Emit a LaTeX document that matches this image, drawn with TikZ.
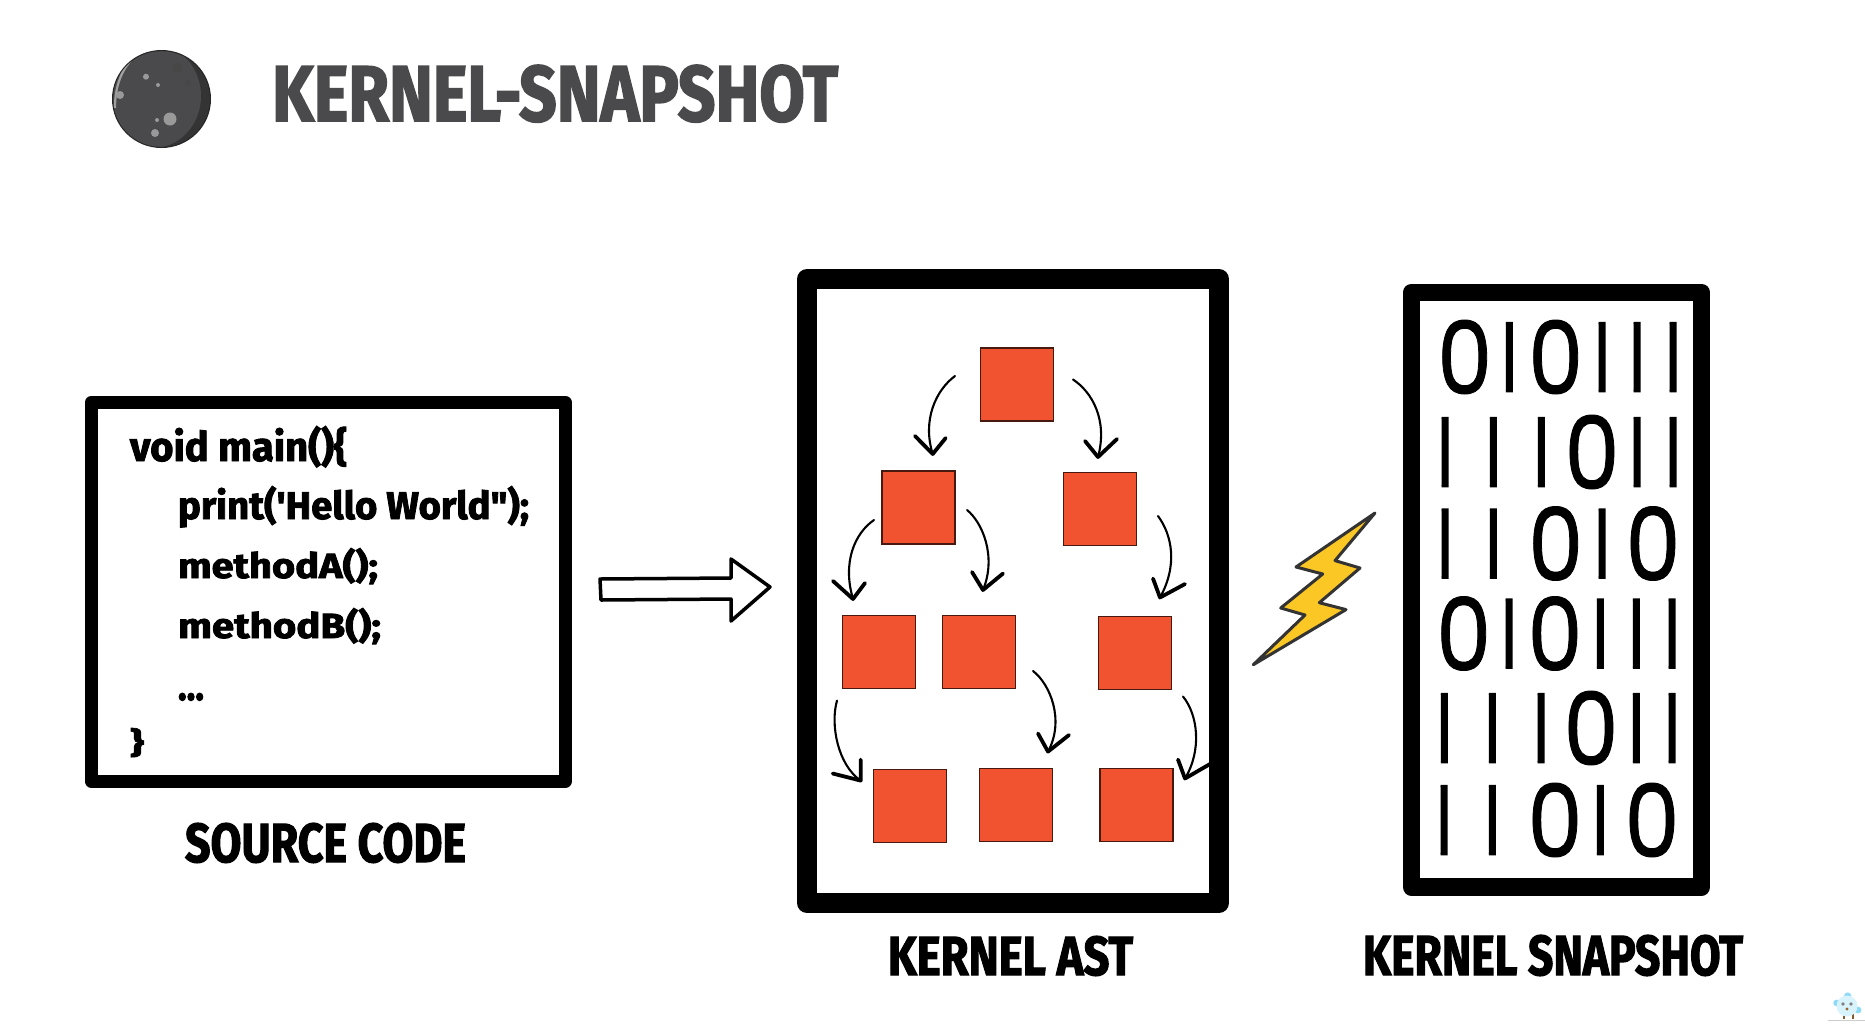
\documentclass[tikz,border=0pt]{standalone}
\usepackage{fontspec}
\setmainfont{Fira Sans}
\newfontfamily\headfont[BoldFeatures={FakeBold=2.2}]{Fira Sans}
\newfontfamily\onefont[FakeBold=2.6]{Poppins}
\newfontfamily\zerofont[FakeBold=0.9]{Poppins}
\newcommand{\fitbox}[3]{\resizebox{#1pt}{#2pt}{\headfont\bfseries #3}}
\definecolor{nodeorange}{HTML}{F15331}
\definecolor{boltyellow}{HTML}{FBC725}
\definecolor{titlegrey}{HTML}{4A4A4C}
\tikzset{
  frame/.style={draw=black,fill=white,line join=round,inner sep=0pt,outer sep=0pt},
  sq/.style={draw=black!70!nodeorange,fill=nodeorange,line width=1.2pt,minimum width=73pt,minimum height=73pt,inner sep=0pt,outer sep=0pt},
  txt/.style={anchor=base west,inner sep=0pt,outer sep=0pt},
  curve/.style={draw=black,line width=2.1pt,line cap=round},
  barb/.style={draw=black,line width=3.8pt,line cap=round,line join=round},
  onedigit/.style={inner sep=0pt,outer sep=0pt,anchor=center},
}
\newcommand{\zerod}[4]{\node[onedigit] (#1) at (#2,#3) {\makebox[47pt][c]{\resizebox{55pt}{74pt}{\zerofont 0}}};}
\newcommand{\oned}[3]{%
  \begin{scope}
    \clip (#2-4.2,#3-36) rectangle (#2+4.2,#3+36);
    \node[onedigit,anchor=east] (#1) at (#2+4.2,#3) {\makebox[8pt][r]{\resizebox{!}{68pt}{\onefont 1}\kern-6.3pt}};
  \end{scope}}
\begin{document}
\begin{tikzpicture}[x=1pt,y=-1pt]
\useasboundingbox[fill=white] (0,0) rectangle (1865,1034);

% planet
\fill[color=black!85] (161.5,99) ellipse (49.5 and 49);
\begin{scope}
\clip (161.5,99) ellipse (48.3 and 47.8);
\fill[color=titlegrey!70!black] (161.5,99) ellipse (49.5 and 49);
\fill[color=titlegrey] (153,96) ellipse (48 and 52);
\draw[line width=2.2pt,color=gray!75] (136,55) .. controls (122,68) and (115,85) .. (115,108);
\end{scope}
\fill[color=black!72] (177.7,68) circle (4.8) (188,83) circle (3.4);
\fill[color=gray!80] (146,76.7) circle (3) (158,85) circle (2) (120,95) circle (4)
  (170,119) circle (6.5) (157,120) circle (2) (155,133) circle (4);

\node[txt,text=titlegrey] (title) at (272,121) {\fitbox{566}{56}{KERNEL-SNAPSHOT}};

% source code box
\node[frame,line width=13pt,minimum width=474.5pt,minimum height=378.5pt] (src) at (328.25,591.75) {};
\node[txt] (c1) at (130,461) {\fitbox{217}{35}{void main()\{}};
\node[txt] (c2) at (178,519) {\fitbox{351}{33}{print('Hello World");}};
\node[txt] (c3) at (178,578) {\fitbox{200}{30}{methodA();}};
\node[txt] (c4) at (178,638) {\fitbox{203}{30}{methodB();}};
\node[txt] (c5) at (178,700) {\fitbox{26}{7}{...}};
\node[txt] (c6) at (130,753) {\fitbox{14}{25}{\}}};
\node[txt] (srcl) at (185,862) {\fitbox{281}{39}{SOURCE CODE}};

% block arrow
\draw[line width=3.5pt,line join=round,fill=white] (600,579) -- (731,578) -- (731,559) -- (770,587) -- (731,621) -- (731,599) -- (601,600) -- cycle;

% AST box
\node[frame,line width=20pt,minimum width=412pt,minimum height=624pt] (ast) at (1013,591) {};
\node[sq] (n1) at (1017,384.5) {};
\node[sq] (n2) at (918.5,507.5) {};
\node[sq] (n3) at (1100,509) {};
\node[sq] (n4) at (879,652) {};
\node[sq] (n5) at (979,652) {};
\node[sq] (n6) at (1135,653) {};
\node[sq] (n7) at (910,806) {};
\node[sq] (n8) at (1016,805) {};
\node[sq] (n9) at (1136.5,805) {};

\coordinate (a1s) at (955,376); \coordinate (a1t) at (932.7,454);
\coordinate (a1l) at (915,436); \coordinate (a1r) at (945.7,438);
\draw[curve] (a1s) .. controls (936,390) and (922,420) .. (a1t);
\draw[barb] (a1l) -- (a1t) -- (a1r);

\coordinate (a2s) at (1073,379.5); \coordinate (a2t) at (1098,457);
\coordinate (a2l) at (1085,441); \coordinate (a2r) at (1117,439);
\draw[curve] (a2s) .. controls (1092,392) and (1108,420) .. (a2t);
\draw[barb] (a2l) -- (a2t) -- (a2r);

\coordinate (a3s) at (874,520); \coordinate (a3t) at (853,599);
\coordinate (a3l) at (833,581); \coordinate (a3r) at (865,583);
\draw[curve] (a3s) .. controls (855,533) and (842,562) .. (a3t);
\draw[barb] (a3l) -- (a3t) -- (a3r);

\coordinate (a4s) at (967,510); \coordinate (a4t) at (983,590);
\coordinate (a4l) at (972,572); \coordinate (a4r) at (1003,573.5);
\draw[curve] (a4s) .. controls (982,522) and (997,556) .. (a4t);
\draw[barb] (a4l) -- (a4t) -- (a4r);

\coordinate (a5s) at (1158,516); \coordinate (a5t) at (1160,597.5);
\coordinate (a5l) at (1153,578.6); \coordinate (a5r) at (1185,584);
\draw[curve] (a5s) .. controls (1172,535) and (1178,565) .. (a5t);
\draw[barb] (a5l) -- (a5t) -- (a5r);

\coordinate (a6s) at (1033,671); \coordinate (a6t) at (1048,751.6);
\coordinate (a6l) at (1038,733.5); \coordinate (a6r) at (1069,735);
\draw[curve] (a6s) .. controls (1050,684) and (1065,720) .. (a6t);
\draw[barb] (a6l) -- (a6t) -- (a6r);

\coordinate (a7s) at (837,700.6); \coordinate (a7t) at (860.7,780.6);
\coordinate (a7l) at (832.7,773.5); \coordinate (a7r) at (860.7,759.6);
\draw[curve] (a7s) .. controls (830,725) and (838,765) .. (a7t);
\draw[barb] (a7l) -- (a7t) -- (a7r);

\coordinate (a8s) at (1183,696.5); \coordinate (a8t) at (1185,778.5);
\coordinate (a8l) at (1178,759.6); \coordinate (a8r) at (1210,764);
\draw[curve] (a8s) .. controls (1198,715) and (1202,750) .. (a8t);
\draw[barb] (a8l) -- (a8t) -- (a8r);

\node[txt] (astl) at (888,975) {\fitbox{245}{39}{KERNEL AST}};

% bolt
\draw[fill=boltyellow,draw=black!80,line width=3pt,line join=round]
  (1375,513) -- (1335,560.6) -- (1360,568) -- (1319.3,602.7) -- (1346,609.6) -- (1253.3,664.7)
  -- (1305,615) -- (1280.7,608) -- (1322.7,574) -- (1296,567) -- cycle;

% snapshot box
\node[frame,line width=17.5pt,minimum width=290pt,minimum height=594.5pt] (snap) at (1556.5,589.75) {};

\oned{r1b}{1510}{357} \zerod{r1a}{1464.7}{357}{} \zerod{r1c}{1555.7}{357}{}
\oned{r1d}{1602.7}{357} \oned{r1e}{1637.7}{357} \oned{r1f}{1673.7}{357}
\oned{r2a}{1445.7}{452} \oned{r2b}{1494}{452} \oned{r2c}{1542}{452}
\zerod{r2d}{1592}{452}{} \oned{r2e}{1637.7}{452} \oned{r2f}{1673.7}{452}
\oned{r3a}{1445.7}{543.5} \oned{r3b}{1494}{543.5} \zerod{r3c}{1555.7}{543.5}{}
\oned{r3d}{1602.7}{543.5} \zerod{r3e}{1653}{543.5}{}
\zerod{r4a}{1463.7}{633.5}{} \oned{r4b}{1509.7}{633.5} \zerod{r4c}{1555}{633.5}{}
\oned{r4d}{1601}{633.5} \oned{r4e}{1637}{633.5} \oned{r4f}{1672.7}{633.5}
\oned{r5a}{1445}{728} \oned{r5b}{1493}{728} \oned{r5c}{1541.7}{728}
\zerod{r5d}{1591}{728}{} \oned{r5e}{1637}{728} \oned{r5f}{1672.7}{728}
\oned{r6a}{1444.7}{820} \oned{r6b}{1493}{820} \zerod{r6c}{1555}{820}{}
\oned{r6d}{1601}{820} \zerod{r6e}{1652}{820}{}

\node[txt] (snapl) at (1363,975) {\fitbox{380}{40}{KERNEL SNAPSHOT}};

% mascot
\draw[color=gray!40,line width=.6pt] (1828,1020) -- (1865,1020);
\fill[color=cyan!45] (1847.7,996) circle (3.6) (1836.7,1003) circle (3.4) (1858,1010) circle (3.4);
\draw[color=brown!70!black,line width=1.6pt] (1844,1014) -- (1844,1019) (1853,1014) -- (1853,1019);
\fill[color=cyan!15] (1847,1006) circle (10.5);
\fill[color=gray] (1843,1004) circle (1.8) (1851,1004) circle (1.8);
\fill[color=brown!80!black] (1847,1009) circle (1.7);
\end{tikzpicture}
\end{document}
